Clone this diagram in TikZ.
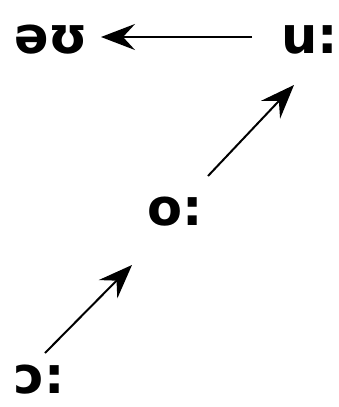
\documentclass[tikz,border=0pt]{standalone}
\usepackage{fontspec}
\setmainfont{DejaVu Sans}
\usetikzlibrary{arrows.meta}
\begin{document}
\begin{tikzpicture}[x=1pt,y=-1pt,
  vowel/.style={font=\fontsize{51}{56}\selectfont\bfseries, inner sep=0pt},
  movearrow/.style={line width=2pt, -{Stealth[length=34pt,width=26pt,inset=12pt]}}]
\useasboundingbox (0,0) rectangle (339,407);
\node[vowel] (ou) at (51,40) {əʊ};
\node[vowel] (u) at (310,40) {u:};
\node[vowel] (o) at (175,212) {o:};
\node[vowel] (oo) at (40,380) {ɔ:};
\coordinate (h1) at (252,37);
\coordinate (h2) at (101,37);
\coordinate (c1) at (45,353);
\coordinate (c2) at (132,265);
\coordinate (c3) at (208,176);
\coordinate (c4) at (294,85);
\draw[movearrow] (h1) -- (h2);
\draw[movearrow] (c1) -- (c2);
\draw[movearrow] (c3) -- (c4);
\end{tikzpicture}
\end{document}
